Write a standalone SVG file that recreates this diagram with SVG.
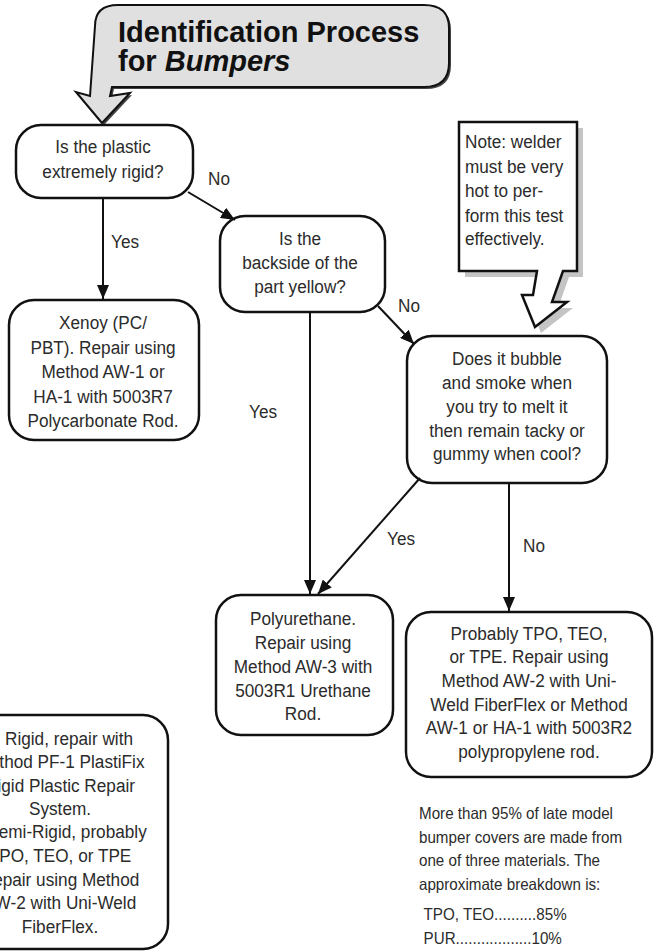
<svg xmlns="http://www.w3.org/2000/svg" width="657" height="951" viewBox="0 0 657 951">
<defs>
<style>
.t{font-family:"Liberation Sans",Arial,Helvetica,sans-serif;font-size:19px;fill:#2b2b2b}
.s{font-family:"Liberation Sans",Arial,Helvetica,sans-serif;font-size:16.5px;fill:#2b2b2b}
.title{font-family:"Liberation Sans",Arial,Helvetica,sans-serif;font-size:29px;font-weight:bold;fill:#111}
.box{fill:#fff;stroke:#111;stroke-width:2.5}
.edge{fill:none;stroke:#111;stroke-width:2}
</style>
<marker id="ah" viewBox="0 0 14 12" refX="14" refY="6" markerWidth="14" markerHeight="12" markerUnits="userSpaceOnUse" orient="auto">
<path d="M0,0 L14,6 L0,12 Z" fill="#111"/>
</marker>
</defs>
<rect width="657" height="951" fill="#fff"/>

<g id="title">
<path d="M104,125 L78,94 L92,98 L97,28 Q97,7 120,7 L426,7 Q451,7 451,30 L451,65 Q451,89 426,89 L114,89 L112,98 L132,95 Z" fill="#444"/>
<path d="M102,123 L76,92 L90,96 L95,26 Q95,5 118,5 L424,5 Q449,5 449,28 L449,63 Q449,87 424,87 L112,87 L110,96 L130,93 Z" fill="#e0e0e0" stroke="#111" stroke-width="2" stroke-linejoin="miter"/>
<text class="title" x="118" y="42">Identification Process</text>
<text class="title" x="118" y="71">for <tspan font-style="italic">Bumpers</tspan></text>
</g>

<g id="note">
<path d="M465,128 L583,128 L583,277 L569,277 L558,308 L573,308 L541,333 L528,301 L539,301 L543,277 L465,277 Z" fill="#c4c4c4"/>
<path d="M459,122 L577,122 L577,271 L563,271 L552,302 L567,302 L535,327 L522,295 L533,295 L537,271 L459,271 Z" fill="#fff" stroke="#111" stroke-width="2.5" stroke-linejoin="miter"/>
<text class="t" transform="translate(465,0) scale(0.905,1)"><tspan x="0" y="148">Note: welder</tspan><tspan x="0" y="173">must be very</tspan><tspan x="0" y="197">hot to per-</tspan><tspan x="0" y="222">form this test</tspan><tspan x="0" y="245">effectively.</tspan></text>
</g>

<g id="q1">
<rect class="box" x="16" y="125" width="177" height="73" rx="25"/>
<text class="t" text-anchor="middle" transform="translate(103,0) scale(0.905,1)"><tspan x="0" y="153">Is the plastic</tspan><tspan x="0" y="178">extremely rigid?</tspan></text>
</g>

<g id="xenoy">
<rect class="box" x="9" y="300" width="190" height="140" rx="25"/>
<text class="t" text-anchor="middle" transform="translate(103,0) scale(0.905,1)"><tspan x="0" y="329">Xenoy (PC/</tspan><tspan x="0" y="354">PBT). Repair using</tspan><tspan x="0" y="378">Method AW-1 or</tspan><tspan x="0" y="403">HA-1 with 5003R7</tspan><tspan x="0" y="427">Polycarbonate Rod.</tspan></text>
</g>

<g id="q2">
<rect class="box" x="220" y="216" width="165" height="96" rx="25"/>
<text class="t" text-anchor="middle" transform="translate(300,0) scale(0.905,1)"><tspan x="0" y="245">Is the</tspan><tspan x="0" y="269">backside of the</tspan><tspan x="0" y="293">part yellow?</tspan></text>
</g>

<g id="q3">
<rect class="box" x="407" y="336" width="200" height="147" rx="25"/>
<text class="t" text-anchor="middle" transform="translate(507,0) scale(0.905,1)"><tspan x="0" y="365">Does it bubble</tspan><tspan x="0" y="389">and smoke when</tspan><tspan x="0" y="413">you try to melt it</tspan><tspan x="0" y="437">then remain tacky or</tspan><tspan x="0" y="460">gummy when cool?</tspan></text>
</g>

<g id="poly">
<rect class="box" x="216" y="595" width="177" height="140" rx="25"/>
<text class="t" text-anchor="middle" transform="translate(303,0) scale(0.905,1)"><tspan x="0" y="625">Polyurethane.</tspan><tspan x="0" y="649">Repair using</tspan><tspan x="0" y="673">Method AW-3 with</tspan><tspan x="0" y="697">5003R1 Urethane</tspan><tspan x="0" y="720">Rod.</tspan></text>
</g>

<g id="tpo">
<rect class="box" x="406" y="612" width="246" height="165" rx="25"/>
<text class="t" text-anchor="middle" transform="translate(529,0) scale(0.905,1)"><tspan x="0" y="640">Probably TPO, TEO,</tspan><tspan x="0" y="663">or TPE.  Repair using</tspan><tspan x="0" y="687">Method AW-2 with Uni-</tspan><tspan x="0" y="711">Weld FiberFlex or Method</tspan><tspan x="0" y="734">AW-1 or HA-1 with 5003R2</tspan><tspan x="0" y="758">polypropylene rod.</tspan></text>
</g>

<g id="rigid">
<rect class="box" x="-40" y="715" width="208" height="234" rx="25"/>
<text class="t" text-anchor="middle" transform="translate(69,0) scale(0.905,1)"><tspan x="0" y="745">Rigid, repair with</tspan></text>
<text class="t" text-anchor="middle" transform="translate(60,0) scale(0.905,1)"><tspan x="0" y="768">Method PF-1 PlastiFix</tspan><tspan x="0" y="792">Rigid Plastic Repair</tspan><tspan x="0" y="815">System.</tspan></text>
<text class="t" text-anchor="middle" transform="translate(67,0) scale(0.905,1)"><tspan x="0" y="838">Semi-Rigid, probably</tspan></text>
<text class="t" text-anchor="middle" transform="translate(60,0) scale(0.905,1)"><tspan x="0" y="862">TPO, TEO, or TPE</tspan><tspan x="0" y="886">Repair using Method</tspan><tspan x="0" y="909">AW-2 with Uni-Weld</tspan><tspan x="0" y="933">FiberFlex.</tspan></text>
</g>

<g id="breakdown">
<text class="s" transform="translate(419,0) scale(0.92,1)"><tspan x="0" y="819">More than 95% of late model</tspan><tspan x="0" y="843">bumper covers are made from</tspan><tspan x="0" y="866">one of three materials. The</tspan><tspan x="0" y="890">approximate breakdown is:</tspan><tspan x="5" y="920">TPO, TEO..........85%</tspan><tspan x="5" y="944">PUR..................10%</tspan></text>
</g>

<g id="connectors">
<line class="edge" x1="103" y1="198" x2="103" y2="299" marker-end="url(#ah)"/>
<line class="edge" x1="188" y1="192" x2="235" y2="220" marker-end="url(#ah)"/>
<line class="edge" x1="378" y1="306" x2="414" y2="344" marker-end="url(#ah)"/>
<line class="edge" x1="310" y1="312" x2="310" y2="594" marker-end="url(#ah)"/>
<line class="edge" x1="420" y1="478" x2="318" y2="594" marker-end="url(#ah)"/>
<line class="edge" x1="509" y1="483" x2="509" y2="611" marker-end="url(#ah)"/>
<text class="t" transform="translate(208,0) scale(0.905,1)" x="0" y="185">No</text>
<text class="t" transform="translate(111,0) scale(0.905,1)" x="0" y="248">Yes</text>
<text class="t" transform="translate(398,0) scale(0.905,1)" x="0" y="312">No</text>
<text class="t" transform="translate(249,0) scale(0.905,1)" x="0" y="418">Yes</text>
<text class="t" transform="translate(387,0) scale(0.905,1)" x="0" y="545">Yes</text>
<text class="t" transform="translate(523,0) scale(0.905,1)" x="0" y="552">No</text>
</g>
</svg>
